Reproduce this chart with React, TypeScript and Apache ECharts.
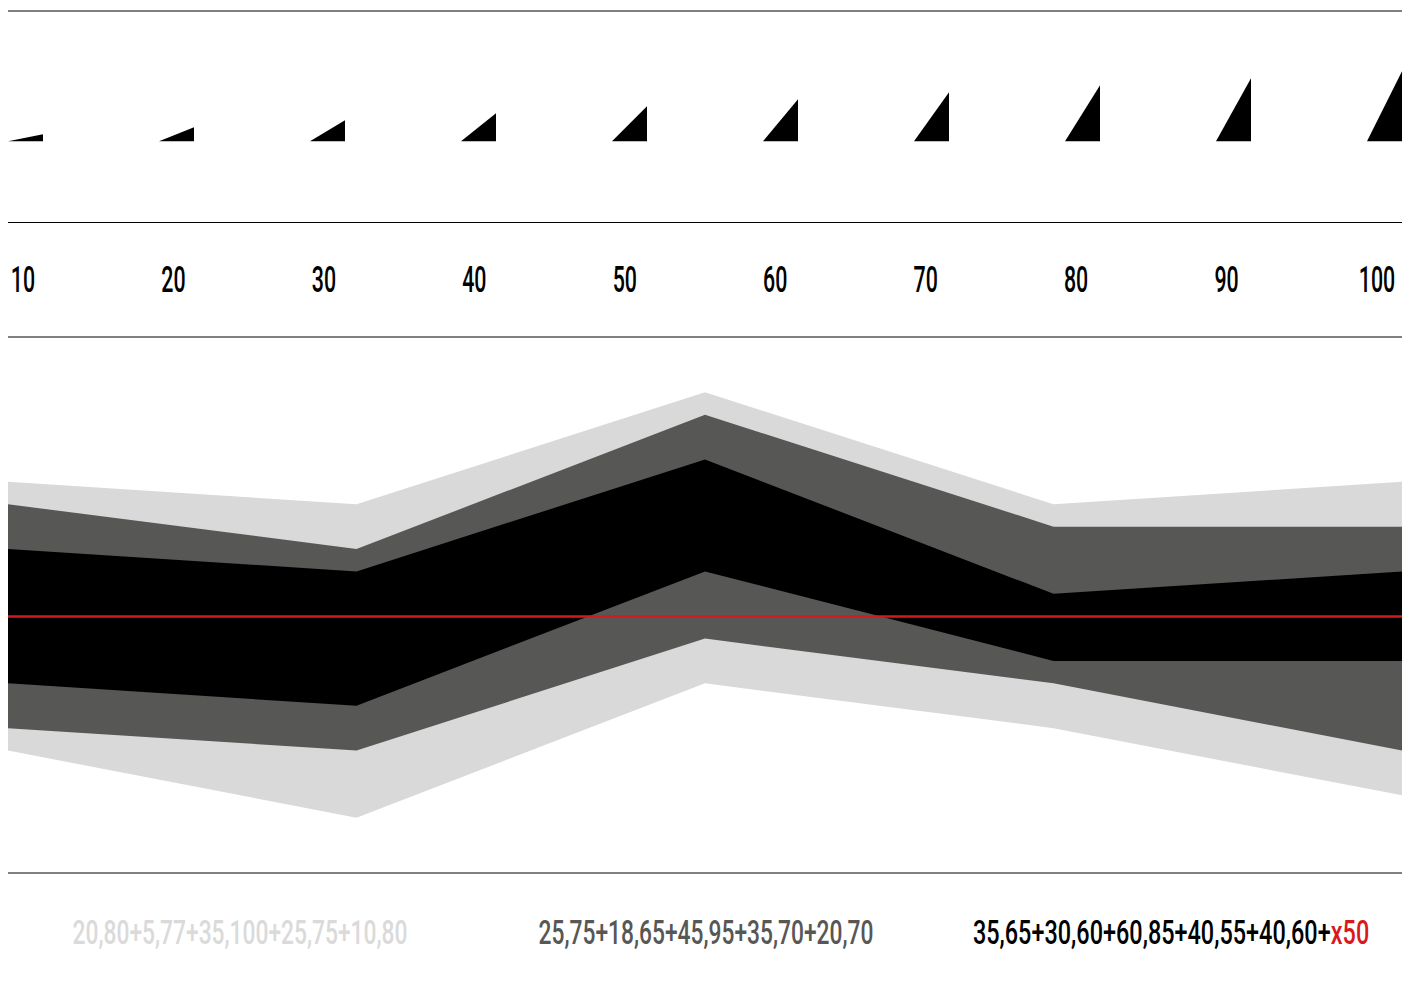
import React, { useEffect, useRef } from 'react';
import * as echarts from 'echarts';

const tickLabels = ['10', '20', '30', '40', '50', '60', '70', '80', '90', '100'];
const triangleValues = [10, 20, 30, 40, 50, 60, 70, 80, 90, 100];
const bandPoints = ['p1', 'p2', 'p3', 'p4', 'p5'];
const lightLow = [20, 5, 35, 25, 10];
const lightHigh = [80, 75, 100, 75, 80];
const darkLow = [25, 20, 45, 35, 20];
const darkHigh = [75, 65, 95, 70, 70];
const blackLow = [35, 30, 60, 40, 40];
const blackHigh = [65, 60, 85, 55, 60];
const referenceValue = 50;
const captionLight = '20,80+5,77+35,100+25,75+10,80';
const captionDark = '25,75+18,65+45,95+35,70+20,70';
const captionBlack = '35,65+30,60+60,85+40,55+40,60+';
const captionRef = 'x50';

const LIGHT = '#d9d9d9';
const DARK = '#575756';
const BLACK = '#000000';
const RED = '#d7191c';
const FONT = 'Roboto, "Noto Sans", sans-serif';

export default function App() {
  const ref = useRef<HTMLDivElement>(null);
  useEffect(() => {
    if (!ref.current) return;
    const chart = echarts.init(ref.current, undefined, { renderer: 'svg' });

    const bands: [string, number[], number[], string][] = [
      ['light', lightLow, lightHigh, LIGHT],
      ['dark', darkLow, darkHigh, DARK],
      ['black', blackLow, blackHigh, BLACK],
    ];
    const bandSeries: any[] = [];
    bands.forEach(([name, low, high, color], bi) => {
      bandSeries.push({
        type: 'line', name: name + '-base', xAxisIndex: 2, yAxisIndex: 2, stack: name,
        data: low, symbol: 'none', lineStyle: { width: 0, opacity: 0 }, silent: true,
      });
      const s: any = {
        type: 'line', name, xAxisIndex: 2, yAxisIndex: 2, stack: name,
        data: high.map((h, i) => h - low[i]), symbol: 'none',
        lineStyle: { width: 0, opacity: 0 }, areaStyle: { color, opacity: 1 }, silent: true,
      };
      if (bi === bands.length - 1) {
        s.markLine = {
          silent: true, symbol: 'none', animation: false,
          data: [{ yAxis: referenceValue }],
          lineStyle: { color: RED, width: 2.6, type: 'solid' },
          label: { show: false },
        };
      }
      bandSeries.push(s);
    });

    const ruleLine = (y: number) => ({
      type: 'line', silent: true,
      shape: { x1: 8, y1: y, x2: 1402, y2: y },
      style: { stroke: '#000', lineWidth: 1 },
    });

    const captionStyle = { fontFamily: FONT, fontSize: 34, fontWeight: 500 };

    chart.setOption({
      animation: false,
      grid: [
        { left: 8, right: 35, top: 71.3, height: 70 },
        { left: 23, right: 25, top: 269, height: 20 },
        { left: 8, right: 0, top: 392.3, height: 447.8 },
      ],
      xAxis: [
        { gridIndex: 0, type: 'category', data: tickLabels, boundaryGap: false, show: false },
        { gridIndex: 1, type: 'category', data: tickLabels, boundaryGap: false, show: false },
        { gridIndex: 2, type: 'category', data: bandPoints, boundaryGap: false, show: false },
      ],
      yAxis: [
        { gridIndex: 0, type: 'value', min: 0, max: 100, show: false },
        { gridIndex: 1, type: 'value', min: 0, max: 1, show: false },
        { gridIndex: 2, type: 'value', min: 0, max: 100, show: false },
      ],
      series: [
        {
          type: 'custom', xAxisIndex: 0, yAxisIndex: 0, clip: false, silent: true,
          data: triangleValues.map((v, i) => [i, v]),
          renderItem: (params: any, api: any) => {
            const b = api.coord([api.value(0), 0]);
            const t = api.coord([api.value(0), api.value(1)]);
            return {
              type: 'polygon',
              shape: { points: [[b[0], b[1]], [b[0] + 35, b[1]], [b[0] + 35, t[1]]] },
              style: { fill: BLACK },
            };
          },
        },
        {
          type: 'custom', xAxisIndex: 1, yAxisIndex: 1, clip: false, silent: true,
          data: tickLabels.map((l, i) => [i, 0.5]),
          renderItem: (params: any, api: any) => {
            const p = api.coord([api.value(0), api.value(1)]);
            return {
              type: 'text', x: p[0], y: p[1], scaleX: 0.57,
              style: {
                text: tickLabels[params.dataIndex], fontFamily: FONT, fontSize: 37.5,
                fontWeight: 500, fill: BLACK, align: 'center', verticalAlign: 'middle',
              },
            };
          },
        },
        ...bandSeries,
      ],
      graphic: [
        ruleLine(11),
        ruleLine(222.5),
        ruleLine(337),
        ruleLine(873),
        {
          type: 'text', x: 240, y: 932, scaleX: 0.67, silent: true,
          style: { text: captionLight, ...captionStyle, fill: '#dadada', align: 'center', verticalAlign: 'middle' },
        },
        {
          type: 'text', x: 706, y: 932, scaleX: 0.67, silent: true,
          style: { text: captionDark, ...captionStyle, fill: DARK, align: 'center', verticalAlign: 'middle' },
        },
        {
          type: 'text', x: 1171, y: 932, scaleX: 0.69, silent: true,
          style: {
            text: '{a|' + captionBlack + '}{b|' + captionRef + '}',
            align: 'center', verticalAlign: 'middle',
            rich: {
              a: { ...captionStyle, fill: BLACK },
              b: { ...captionStyle, fill: RED },
            },
          },
        },
      ],
    });
    return () => chart.dispose();
  }, []);
  return <div ref={ref} style={{ position: 'absolute', left: 0, top: 0, width: 1402, height: 985 }} />;
}
